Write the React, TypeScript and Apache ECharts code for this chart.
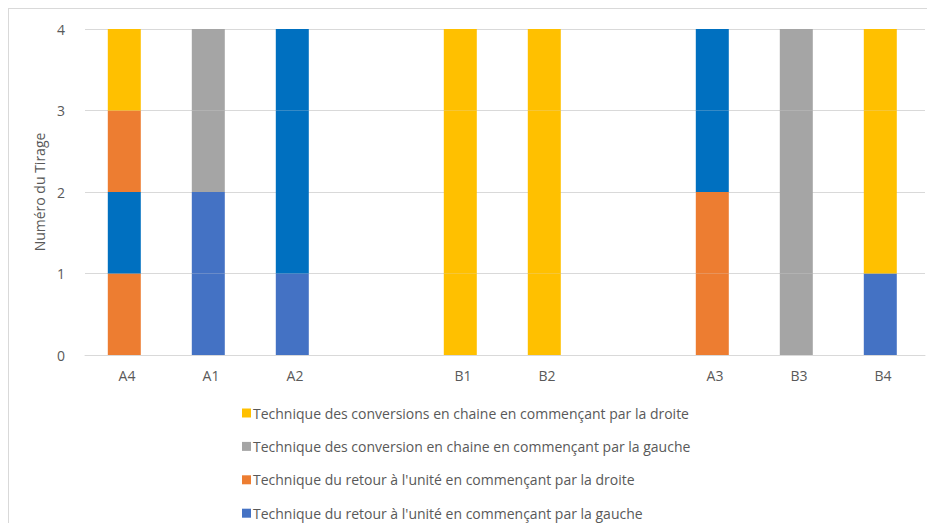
import React, { useEffect, useRef } from "react";
import * as echarts from "echarts";

const categories = ["A4", "A1", "A2", "", "B1", "B2", "", "A3", "B3", "B4"];
const yTicks = [0, 1, 2, 3, 4];

const techniques = [
  "Technique des conversions en chaine en commençant par la droite",
  "Technique des conversion en chaine en commençant par la gauche",
  "Technique du retour à l'unité en commençant par la droite",
  "Technique du retour à l'unité en commençant par la gauche",
];
const techniqueColors = ["#FFC000", "#A5A5A5", "#ED7D31", "#4472C4"];
const darkBlue = "#0070C0";

// Y = conversions droite, G = conversions gauche, O = retour droite, B = retour gauche, D = dark blue
const tirage1 = ["O", "B", "B", null, "Y", "Y", null, "O", "G", "B"];
const tirage2 = ["D", "B", "D", null, "Y", "Y", null, "O", "G", "Y"];
const tirage3 = ["O", "G", "D", null, "Y", "Y", null, "D", "G", "Y"];
const tirage4 = ["Y", "G", "D", null, "Y", "Y", null, "D", "G", "Y"];
const tirages = [tirage1, tirage2, tirage3, tirage4];

const codeColor: Record<string, string> = {
  Y: techniqueColors[0],
  G: techniqueColors[1],
  O: techniqueColors[2],
  B: techniqueColors[3],
  D: darkBlue,
};

const FONT = "'Open Sans', sans-serif";
const TXT = "#595959";

export default function App() {
  const ref = useRef<HTMLDivElement>(null);
  useEffect(() => {
    if (!ref.current) return;
    const chart = echarts.init(ref.current, undefined, { renderer: "svg" });
    const dataSeries = tirages.map((t, i) => ({
      name: "Tirage " + (i + 1),
      type: "bar",
      stack: "total",
      barWidth: 33,
      data: t.map((c) =>
        c == null ? null : { value: 1, itemStyle: { color: codeColor[c] } }
      ),
    }));
    const legendSeries = techniques.map((name, i) => ({
      name,
      type: "bar",
      data: [],
      itemStyle: { color: techniqueColors[i] },
    }));
    chart.setOption({
      animation: false,
      textStyle: { fontFamily: FONT },
      grid: { left: 76, right: 2, top: 20, bottom: 168 },
      legend: {
        data: techniques,
        orient: "vertical",
        left: 233,
        top: 397,
        height: 200,
        padding: 0,
        itemWidth: 9,
        itemHeight: 9,
        itemGap: 19.4,
        icon: "rect",
        selectedMode: false,
        textStyle: { color: TXT, fontSize: 14, fontFamily: FONT, padding: [0, 0, 0, -3] },
      },
      xAxis: {
        type: "category",
        data: categories,
        axisLine: { lineStyle: { color: "#D9D9D9" } },
        axisTick: { show: false },
        axisLabel: { color: TXT, fontSize: 14, margin: 13, fontFamily: FONT },
      },
      yAxis: {
        type: "value",
        min: yTicks[0],
        max: yTicks[yTicks.length - 1],
        interval: 1,
        name: "Numéro du Tirage",
        nameLocation: "middle",
        nameGap: 33,
        nameTextStyle: { color: TXT, fontSize: 14, fontFamily: FONT },
        axisLine: { show: false },
        axisTick: { show: false },
        axisLabel: { color: TXT, fontSize: 14, margin: 20, fontFamily: FONT },
        splitLine: { lineStyle: { color: "#D9D9D9" } },
      },
      series: [...dataSeries, ...legendSeries],
    });
    return () => chart.dispose();
  }, []);
  return (
    <div
      ref={ref}
      style={{
        width: 919,
        height: 515,
        borderTop: "1px solid #D9D9D9",
        borderLeft: "1px solid #D9D9D9",
        boxSizing: "border-box",
      }}
    />
  );
}
